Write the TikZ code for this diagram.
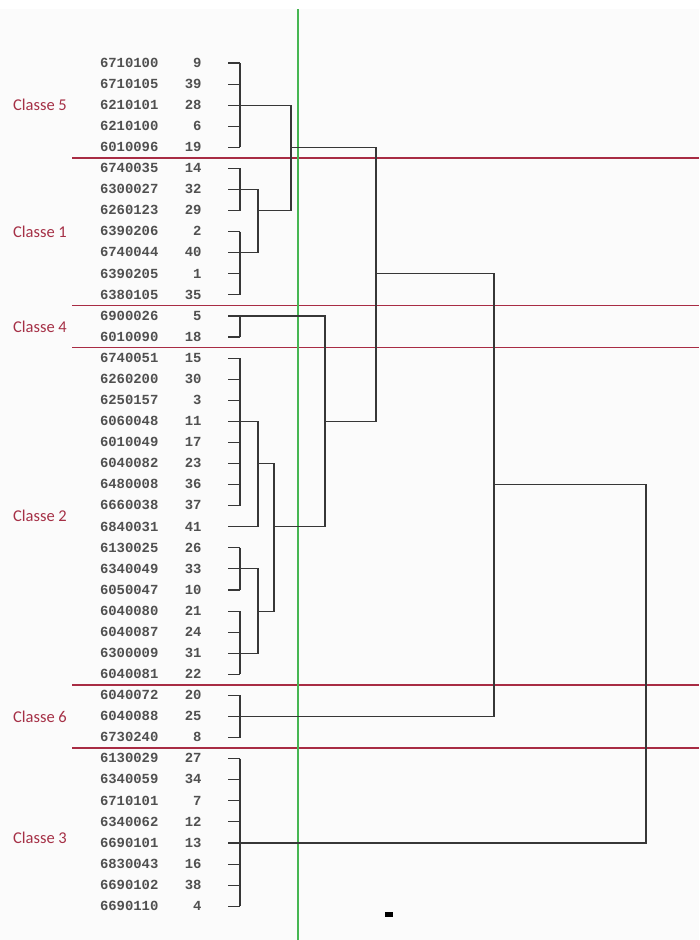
\documentclass[tikz,border=0pt]{standalone}
\usepackage{fontspec}
\usepackage{tikz}
\usetikzlibrary{calc}
\setmonofont{Liberation Mono}
\newfontfamily\classfont{Carlito}
\definecolor{sepred}{RGB}{168,44,68}
\definecolor{classred}{RGB}{165,48,70}
\definecolor{cutgreen}{RGB}{70,182,82}
\definecolor{treegray}{RGB}{55,55,55}
\definecolor{idgray}{RGB}{80,80,80}
\definecolor{bgpaper}{RGB}{251,251,251}

\begin{document}
\begin{tikzpicture}
 [x=1pt, y=-1pt,
  id node/.style={node distance=21.08pt, inner sep=0pt, text width=60pt, align=left, text height=8.5pt, text depth=0pt, font=\ttfamily\bfseries\fontsize{13.9}{15}\selectfont, text=idgray},
  num node/.style={node distance=61.5pt, inner sep=0pt, text width=20pt, align=right, text height=8.5pt, text depth=0pt, font=\ttfamily\bfseries\fontsize{13.9}{15}\selectfont, text=idgray},
  class node/.style={node distance=90pt, inner sep=0pt, font=\classfont\fontsize{16.5}{18}\selectfont, text=classred},
  tree/.style={draw=treegray, line width=1.1pt},
  sep line/.style={draw=sepred, line width=1.5pt},
  cut line/.style={draw=cutgreen, line width=1.4pt}]

\useasboundingbox (0,0) rectangle (699,940);
\fill[bgpaper] (0,9) rectangle (699,940);

% leaves: code and number
\node[id node] (i1) at (130,63) {6710100};
\node[id node] (i2) [below of=i1] {6710105};
\node[id node] (i3) [below of=i2] {6210101};
\node[id node] (i4) [below of=i3] {6210100};
\node[id node] (i5) [below of=i4] {6010096};
\node[id node] (i6) [below of=i5] {6740035};
\node[id node] (i7) [below of=i6] {6300027};
\node[id node] (i8) [below of=i7] {6260123};
\node[id node] (i9) [below of=i8] {6390206};
\node[id node] (i10) [below of=i9] {6740044};
\node[id node] (i11) [below of=i10] {6390205};
\node[id node] (i12) [below of=i11] {6380105};
\node[id node] (i13) [below of=i12] {6900026};
\node[id node] (i14) [below of=i13] {6010090};
\node[id node] (i15) [below of=i14] {6740051};
\node[id node] (i16) [below of=i15] {6260200};
\node[id node] (i17) [below of=i16] {6250157};
\node[id node] (i18) [below of=i17] {6060048};
\node[id node] (i19) [below of=i18] {6010049};
\node[id node] (i20) [below of=i19] {6040082};
\node[id node] (i21) [below of=i20] {6480008};
\node[id node] (i22) [below of=i21] {6660038};
\node[id node] (i23) [below of=i22] {6840031};
\node[id node] (i24) [below of=i23] {6130025};
\node[id node] (i25) [below of=i24] {6340049};
\node[id node] (i26) [below of=i25] {6050047};
\node[id node] (i27) [below of=i26] {6040080};
\node[id node] (i28) [below of=i27] {6040087};
\node[id node] (i29) [below of=i28] {6300009};
\node[id node] (i30) [below of=i29] {6040081};
\node[id node] (i31) [below of=i30] {6040072};
\node[id node] (i32) [below of=i31] {6040088};
\node[id node] (i33) [below of=i32] {6730240};
\node[id node] (i34) [below of=i33] {6130029};
\node[id node] (i35) [below of=i34] {6340059};
\node[id node] (i36) [below of=i35] {6710101};
\node[id node] (i37) [below of=i36] {6340062};
\node[id node] (i38) [below of=i37] {6690101};
\node[id node] (i39) [below of=i38] {6830043};
\node[id node] (i40) [below of=i39] {6690102};
\node[id node] (i41) [below of=i40] {6690110};

\node[num node] (n1) [right of=i1] {9};
\node[num node] (n2) [right of=i2] {39};
\node[num node] (n3) [right of=i3] {28};
\node[num node] (n4) [right of=i4] {6};
\node[num node] (n5) [right of=i5] {19};
\node[num node] (n6) [right of=i6] {14};
\node[num node] (n7) [right of=i7] {32};
\node[num node] (n8) [right of=i8] {29};
\node[num node] (n9) [right of=i9] {2};
\node[num node] (n10) [right of=i10] {40};
\node[num node] (n11) [right of=i11] {1};
\node[num node] (n12) [right of=i12] {35};
\node[num node] (n13) [right of=i13] {5};
\node[num node] (n14) [right of=i14] {18};
\node[num node] (n15) [right of=i15] {15};
\node[num node] (n16) [right of=i16] {30};
\node[num node] (n17) [right of=i17] {3};
\node[num node] (n18) [right of=i18] {11};
\node[num node] (n19) [right of=i19] {17};
\node[num node] (n20) [right of=i20] {23};
\node[num node] (n21) [right of=i21] {36};
\node[num node] (n22) [right of=i22] {37};
\node[num node] (n23) [right of=i23] {41};
\node[num node] (n24) [right of=i24] {26};
\node[num node] (n25) [right of=i25] {33};
\node[num node] (n26) [right of=i26] {10};
\node[num node] (n27) [right of=i27] {21};
\node[num node] (n28) [right of=i28] {24};
\node[num node] (n29) [right of=i29] {31};
\node[num node] (n30) [right of=i30] {22};
\node[num node] (n31) [right of=i31] {20};
\node[num node] (n32) [right of=i32] {25};
\node[num node] (n33) [right of=i33] {8};
\node[num node] (n34) [right of=i34] {27};
\node[num node] (n35) [right of=i35] {34};
\node[num node] (n36) [right of=i36] {7};
\node[num node] (n37) [right of=i37] {12};
\node[num node] (n38) [right of=i38] {13};
\node[num node] (n39) [right of=i39] {16};
\node[num node] (n40) [right of=i40] {38};
\node[num node] (n41) [right of=i41] {4};

% class labels
\coordinate (m4) at ($(i13)!.5!(i14)$);
\coordinate (m2) at ($(i22)!.5!(i23)$);
\coordinate (m3) at ($(i37)!.75!(i38)$);
\node[class node] (c5) [left of=i3] {Classe 5};
\node[class node] (c1) [left of=i9] {Classe 1};
\node[class node] (c4) [left of=m4] {Classe 4};
\node[class node] (c2) [left of=m2] {Classe 2};
\node[class node] (c6) [left of=i32] {Classe 6};
\node[class node] (c3) [left of=m3] {Classe 3};

% separators between classes
\coordinate (sepl) at (72,0);
\coordinate (sepr) at (699,0);
\coordinate (s1) at ($(n5)!.5!(n6)$);
\coordinate (s2) at ($(n12)!.5!(n13)$);
\coordinate (s3) at ($(n14)!.5!(n15)$);
\coordinate (s4) at ($(n30)!.5!(n31)$);
\coordinate (s5) at ($(n33)!.5!(n34)$);
\draw[sep line] (s1 -| sepl) -- (s1 -| sepr)
  (s2 -| sepl) -- (s2 -| sepr)
  (s3 -| sepl) -- (s3 -| sepr)
  (s4 -| sepl) -- (s4 -| sepr)
  (s5 -| sepl) -- (s5 -| sepr);

% cut level
\coordinate (cuttop) at (298,9);
\coordinate (cutbot) at (298,940);
\draw[cut line] (cuttop) -- (cutbot);

% merge levels
\coordinate (tickx) at (228,0);
\coordinate (br1) at (240,0);
\coordinate (br2) at (258,0);
\coordinate (br3) at (274,0);
\coordinate (br4) at (291,0);
\coordinate (br5) at (325,0);
\coordinate (br6) at (376,0);
\coordinate (br7) at (494,0);
\coordinate (br8) at (646,0);

% leaf ticks
\draw[tree] (n1 -| tickx) -- (n1 -| br1) (n2 -| tickx) -- (n2 -| br1) (n3 -| tickx) -- (n3 -| br1)
  (n4 -| tickx) -- (n4 -| br1) (n5 -| tickx) -- (n5 -| br1) (n6 -| tickx) -- (n6 -| br1)
  (n7 -| tickx) -- (n7 -| br1) (n8 -| tickx) -- (n8 -| br1) (n9 -| tickx) -- (n9 -| br1)
  (n10 -| tickx) -- (n10 -| br1) (n11 -| tickx) -- (n11 -| br1) (n12 -| tickx) -- (n12 -| br1)
  (n14 -| tickx) -- (n14 -| br1) (n15 -| tickx) -- (n15 -| br1)
  (n16 -| tickx) -- (n16 -| br1) (n17 -| tickx) -- (n17 -| br1)
  (n19 -| tickx) -- (n19 -| br1) (n20 -| tickx) -- (n20 -| br1) (n21 -| tickx) -- (n21 -| br1)
  (n22 -| tickx) -- (n22 -| br1) (n24 -| tickx) -- (n24 -| br1)
  (n26 -| tickx) -- (n26 -| br1) (n27 -| tickx) -- (n27 -| br1)
  (n28 -| tickx) -- (n28 -| br1) (n30 -| tickx) -- (n30 -| br1)
  (n31 -| tickx) -- (n31 -| br1) (n33 -| tickx) -- (n33 -| br1)
  (n34 -| tickx) -- (n34 -| br1) (n35 -| tickx) -- (n35 -| br1) (n36 -| tickx) -- (n36 -| br1)
  (n37 -| tickx) -- (n37 -| br1) (n39 -| tickx) -- (n39 -| br1)
  (n40 -| tickx) -- (n40 -| br1) (n41 -| tickx) -- (n41 -| br1);

% first level brackets
\draw[tree] (n1 -| br1) -- (n5 -| br1)
  (n6 -| br1) -- (n8 -| br1)
  (n9 -| br1) -- (n12 -| br1)
  (n13 -| br1) -- (n14 -| br1)
  (n15 -| br1) -- (n22 -| br1)
  (n24 -| br1) -- (n26 -| br1)
  (n27 -| br1) -- (n30 -| br1)
  (n31 -| br1) -- (n33 -| br1)
  (n34 -| br1) -- (n41 -| br1);

% higher merges
\draw[tree] (n7 -| br1) -- (n7 -| br2) -- (n10 -| br2) -- (n10 -| br1);
\draw[tree] (n3 -| br1) -- (n3 -| br4) -- (n8 -| br4) -- (n8 -| br2);
\draw[tree] (n18 -| tickx) -- (n18 -| br2) -- (n23 -| br2) -- (n23 -| tickx);
\draw[tree] (n25 -| tickx) -- (n25 -| br2) -- (n29 -| br2) -- (n29 -| tickx);
\draw[tree] (n20 -| br2) -- (n20 -| br3) -- (n27 -| br3) -- (n27 -| br2);
\draw[tree] (n13 -| tickx) -- (n13 -| br5) -- (n23 -| br5) -- (n23 -| br3);
\draw[tree] (n5 -| br4) -- (n5 -| br6) -- (n18 -| br6) -- (n18 -| br5);
\draw[tree] (n11 -| br6) -- (n11 -| br7) -- (n32 -| br7) -- (n32 -| tickx);
\draw[tree] (n21 -| br7) -- (n21 -| br8) -- (n38 -| br8) -- (n38 -| tickx);

\node[fill=black, inner sep=0pt, minimum width=8pt, minimum height=5pt] (mark) at (389,914.5) {};

\end{tikzpicture}
\end{document}
